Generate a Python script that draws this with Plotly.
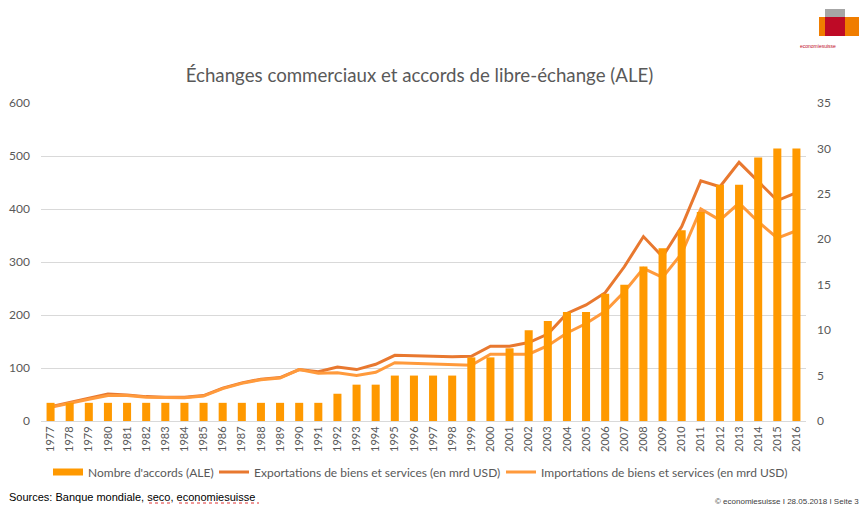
import plotly.graph_objects as go

YEARS = [str(y) for y in range(1977, 2017)]

# Nombre d'accords (right axis)
ACCORDS = [2, 2, 2, 2, 2, 2, 2, 2, 2, 2, 2, 2, 2, 2, 2, 3, 4, 4, 5, 5,
           5, 5, 7, 7, 8, 10, 11, 12, 12, 14, 15, 17, 19, 21, 23, 26, 26, 29, 30, 30]

# mrd USD (left axis)
EXPORTS = [27, 35, 43, 51, 49, 46, 45, 45, 48, 62, 72, 79, 82, 97, 93, 102, 97, 107, 124, 123,
           121, 121, 122, 141, 141, 148, 164, 203, 219, 242, 291, 348, 310, 367, 453, 442, 488, 451, 416, 431]
IMPORTS = [26, 34, 41, 48, 48, 45, 44, 44, 47, 61, 71, 78, 81, 97, 90, 91, 86, 92, 110, 109,
           107, 107, 105, 126, 126, 126, 142, 166, 184, 207, 244, 288, 271, 316, 400, 379, 411, 376, 345, 359]

LEFT_TICKS = [0, 100, 200, 300, 400, 500, 600]
RIGHT_TICKS = [0, 5, 10, 15, 20, 25, 30, 35]

GREY = "#595959"
FONT = "Lato"
BAR_COLOR = "#FF9900"
EXP_COLOR = "#E8782F"
IMP_COLOR = "#FF9A3C"

# plot area in page pixels: x 41..806, y 103..421
def px_x(v):
    return (v - 41) / 765


def px_y(v):
    return (421 - v) / 318


fig = go.Figure()

fig.add_trace(go.Bar(
    x=YEARS, y=ACCORDS, name="Nombre d'accords (ALE)",
    marker=dict(color=BAR_COLOR, line=dict(width=0)),
    yaxis="y2", showlegend=False,
))
# legend-only entry so the bar swatch is a wide flat block like the original
fig.add_trace(go.Scatter(
    x=[None], y=[None], name="Nombre d'accords (ALE)",
    mode="lines", line=dict(color=BAR_COLOR, width=7), legend="legend",
))
fig.add_trace(go.Scatter(
    x=YEARS, y=EXPORTS, name="Exportations de biens et services (en mrd USD)",
    mode="lines", line=dict(color=EXP_COLOR, width=3), legend="legend2",
))
fig.add_trace(go.Scatter(
    x=YEARS, y=IMPORTS, name="Importations de biens et services (en mrd USD)",
    mode="lines", line=dict(color=IMP_COLOR, width=3), legend="legend3",
))

leg = dict(orientation="h", xanchor="left", y=px_y(472), yanchor="middle",
           font=dict(size=12, color=GREY), bgcolor="rgba(0,0,0,0)")

fig.update_layout(
    width=859, height=505,
    margin=dict(l=41, r=53, t=103, b=84, autoexpand=False),
    paper_bgcolor="white", plot_bgcolor="white",
    font=dict(family=FONT, size=11, color=GREY),
    title=dict(
        text="Échanges commerciaux et accords de libre-échange (ALE)",
        x=px_x(419.5), xanchor="center", xref="paper",
        y=1 - 75 / 505, yanchor="middle", yref="container",
        font=dict(family=FONT, size=18.7, color=GREY),
    ),
    bargap=0.58,
    legend=dict(leg, x=px_x(48)),
    legend2=dict(leg, x=px_x(214)),
    legend3=dict(leg, x=px_x(501)),
    xaxis=dict(
        type="category", tickangle=-90, showgrid=False, ticks="",
        showline=True, linecolor="#D9D9D9", linewidth=1, automargin=False,
        tickfont=dict(size=11, color=GREY),
    ),
    yaxis=dict(
        range=[0, 600], tickvals=LEFT_TICKS, showgrid=True, automargin=False,
        gridcolor="#D9D9D9", gridwidth=1, zeroline=False, ticks="",
        tickfont=dict(size=12, color=GREY), ticklabelstandoff=10,
    ),
    yaxis2=dict(
        range=[0, 35], tickvals=RIGHT_TICKS, overlaying="y", side="right",
        showgrid=False, zeroline=False, ticks="", automargin=False,
        tickfont=dict(size=12, color=GREY), ticklabelstandoff=10,
    ),
)

# footer texts
fig.add_annotation(
    text="Sources: Banque mondiale, seco, economiesuisse",
    xref="paper", yref="paper", x=px_x(7), y=px_y(497),
    xanchor="left", yanchor="middle", showarrow=False,
    font=dict(family="Liberation Sans", size=11, color="black"),
)
# red spell-check squiggles under "seco" and "economiesuisse"
for x0, x1 in [(149, 173), (179, 259)]:
    fig.add_shape(type="line", xref="paper", yref="paper",
                  x0=px_x(x0), x1=px_x(x1), y0=px_y(503), y1=px_y(503),
                  line=dict(color="#E03030", width=1, dash="dot"))
fig.add_annotation(
    text="© economiesuisse I 28.05.2018 I Seite 3",
    xref="paper", yref="paper", x=px_x(861), y=px_y(501),
    xanchor="right", yanchor="middle", showarrow=False,
    font=dict(family="Liberation Sans", size=8, color="#404040"),
)

# logo top right
fig.add_shape(type="rect", xref="paper", yref="paper",
              x0=px_x(825), x1=px_x(845), y0=px_y(36), y1=px_y(9),
              fillcolor="#A6A6A6", line=dict(width=0), layer="above")
fig.add_shape(type="rect", xref="paper", yref="paper",
              x0=px_x(819), x1=px_x(860), y0=px_y(36), y1=px_y(17),
              fillcolor="#F07D00", line=dict(width=0), layer="above")
fig.add_shape(type="rect", xref="paper", yref="paper",
              x0=px_x(825), x1=px_x(845), y0=px_y(36), y1=px_y(17),
              fillcolor="#BE0A26", line=dict(width=0), layer="above")
fig.add_annotation(
    text="economiesuisse", xref="paper", yref="paper", x=px_x(838), y=px_y(46),
    yanchor="middle", showarrow=False,
    font=dict(family="Liberation Sans", size=5, color="#BE0A26"),
)

# drop the default 8px body margin so the figure sits at the page corner
fig.write_html("out.html", config={"displayModeBar": False},
               post_script="document.body.style.margin='0';")
